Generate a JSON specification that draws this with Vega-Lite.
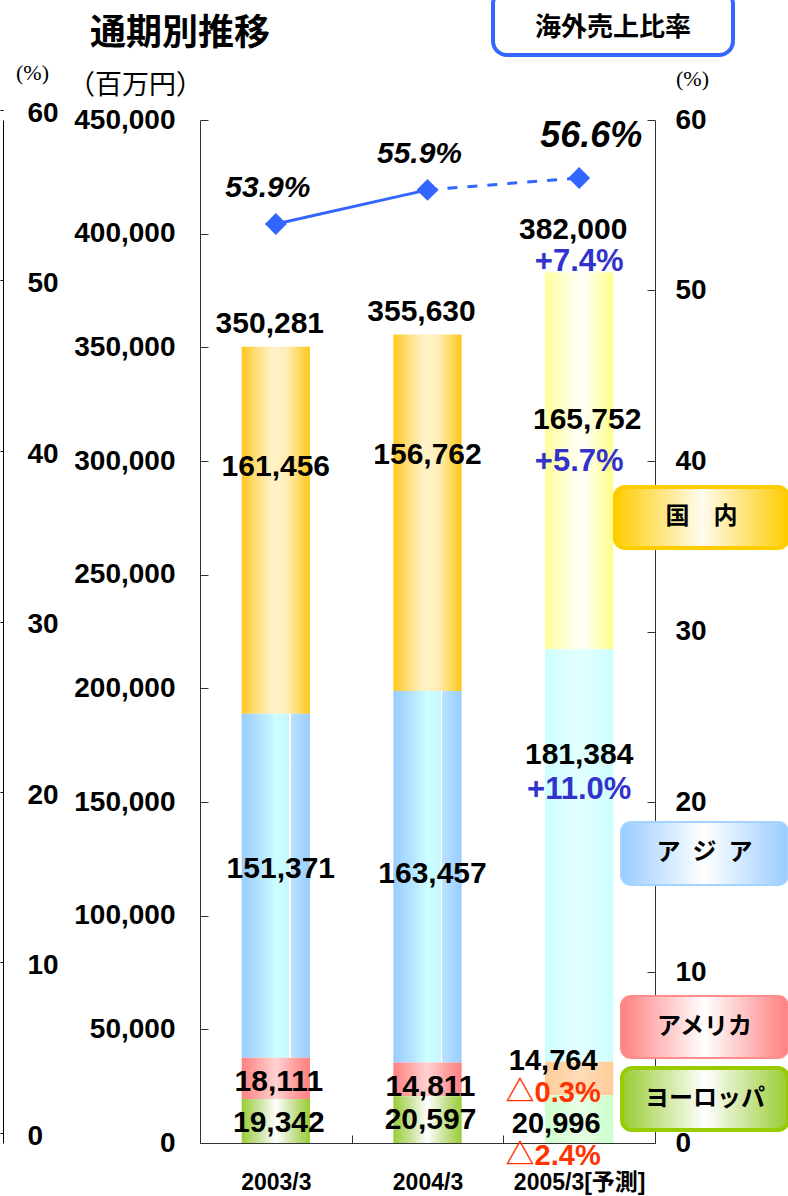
{
  "$schema": "https://vega.github.io/schema/vega-lite/v6.json",
  "width": 455,
  "height": 1023,
  "autosize": {"type": "none"},
  "padding": {"left": 200, "top": 120, "right": 133, "bottom": 53},
  "background": "white",
  "config": {
    "view": {"stroke": null},
    "axis": {"grid": false, "domainColor": "#333333", "tickColor": "#333333", "labelColor": "black", "titleColor": "black"},
    "text": {"font": "Liberation Sans, Noto Sans CJK JP, sans-serif"}
  },
  "title": {"text": "通期別推移", "anchor": "start", "frame": "group", "font": "Noto Sans CJK JP", "fontSize": 36, "fontWeight": "bold", "color": "black", "dx": -110, "dy": 67},
  "datasets": {
    "segments": [
      {"year": "2003/3", "region": "ヨーロッパ", "order": 1, "value": 19342, "change": null},
      {"year": "2003/3", "region": "アメリカ", "order": 2, "value": 18111, "change": null},
      {"year": "2003/3", "region": "アジア", "order": 3, "value": 151371, "change": null},
      {"year": "2003/3", "region": "国内", "order": 4, "value": 161456, "change": null},
      {"year": "2004/3", "region": "ヨーロッパ", "order": 1, "value": 20597, "change": null},
      {"year": "2004/3", "region": "アメリカ", "order": 2, "value": 14811, "change": null},
      {"year": "2004/3", "region": "アジア", "order": 3, "value": 163457, "change": null},
      {"year": "2004/3", "region": "国内", "order": 4, "value": 156762, "change": null},
      {"year": "2005/3[予測]", "region": "ヨーロッパ", "order": 1, "value": 20996, "change": "△2.4%"},
      {"year": "2005/3[予測]", "region": "アメリカ", "order": 2, "value": 14764, "change": "△0.3%"},
      {"year": "2005/3[予測]", "region": "アジア", "order": 3, "value": 181384, "change": "+11.0%"},
      {"year": "2005/3[予測]", "region": "国内", "order": 4, "value": 165752, "change": "+5.7%"}
    ],
    "totals": [
      {"year": "2003/3", "total": 350281, "change": null},
      {"year": "2004/3", "total": 355630, "change": null},
      {"year": "2005/3[予測]", "total": 382000, "change": "+7.4%"}
    ],
    "ratio": [
      {"year": "2003/3", "ratio": 0.539},
      {"year": "2004/3", "ratio": 0.559},
      {"year": "2005/3[予測]", "ratio": 0.566}
    ]
  },
  "encoding": {
    "x": {
      "field": "year", "type": "nominal", "sort": ["2003/3", "2004/3", "2005/3[予測]"],
      "scale": {"paddingInner": 0, "paddingOuter": 0},
      "axis": {"title": null, "labelAngle": 0, "labelFont": "Liberation Sans, Noto Sans CJK JP, sans-serif", "labelFontSize": 23, "labelFontWeight": "bold", "labelPadding": 36, "tickSize": -8, "tickBand": "extent", "labelBaseline": "top"}
    }
  },
  "layer": [
    {
      "layer": [
        {
          "data": {"name": "segments"},
          "transform": [{"stack": "value", "groupby": ["year"], "sort": [{"field": "order", "order": "ascending"}], "as": ["lo", "hi"]}],
          "layer": [
            {
              "transform": [{"filter": "datum.region === '国内'"}],
              "mark": {"type": "bar", "width": {"band": 0.45}},
              "encoding": {
                "y": {"field": "lo", "type": "quantitative", "scale": {"domain": [0, 450000], "nice": false},
                  "axis": {"orient": "left", "values": [0, 50000, 100000, 150000, 200000, 250000, 300000, 350000, 400000, 450000], "labelExpr": "format(datum.value, ',')", "labelFont": "Liberation Sans", "labelFontSize": 28, "labelFontWeight": "bold", "labelPadding": 33, "tickSize": -8, "title": "（百万円）", "titleAngle": 0, "titleFont": "Noto Sans CJK JP", "titleFontSize": 27, "titleFontWeight": "normal", "titleAlign": "center", "titleBaseline": "middle", "titleX": -65, "titleY": -35}},
                "y2": {"field": "hi"},
                "color": {
                  "condition": {"test": "datum.year === '2005/3[予測]'", "value": {"gradient": "linear", "x1": 0, "x2": 1, "y1": 0, "y2": 0, "stops": [{"offset": 0, "color": "#ffff99"}, {"offset": 0.45, "color": "#ffffee"}, {"offset": 0.6, "color": "#fffff0"}, {"offset": 1, "color": "#ffff88"}]}},
                  "value": {"gradient": "linear", "x1": 0, "x2": 1, "y1": 0, "y2": 0, "stops": [{"offset": 0, "color": "#ffc61a"}, {"offset": 0.2, "color": "#ffdd77"}, {"offset": 0.45, "color": "#fff2c9"}, {"offset": 0.65, "color": "#ffeebb"}, {"offset": 0.85, "color": "#ffd95e"}, {"offset": 1, "color": "#ffc61a"}]}
                }
              }
            },
            {
              "transform": [{"filter": "datum.region === 'アジア'"}],
              "mark": {"type": "bar", "width": {"band": 0.45}},
              "encoding": {
                "y": {"field": "lo", "type": "quantitative"},
                "y2": {"field": "hi"},
                "color": {
                  "condition": {"test": "datum.year === '2005/3[予測]'", "value": {"gradient": "linear", "x1": 0, "x2": 1, "y1": 0, "y2": 0, "stops": [{"offset": 0, "color": "#ccffff"}, {"offset": 0.5, "color": "#e4ffff"}, {"offset": 1, "color": "#ccffff"}]}},
                  "value": {"gradient": "linear", "x1": 0, "x2": 1, "y1": 0, "y2": 0, "stops": [{"offset": 0, "color": "#99ccff"}, {"offset": 0.3, "color": "#b8e6ff"}, {"offset": 0.5, "color": "#ccffff"}, {"offset": 0.69, "color": "#c6f6ff"}, {"offset": 0.695, "color": "#ffffff"}, {"offset": 0.715, "color": "#ffffff"}, {"offset": 0.72, "color": "#b9e2ff"}, {"offset": 1, "color": "#99ccff"}]}
                }
              }
            },
            {
              "transform": [{"filter": "datum.region === 'アメリカ'"}],
              "mark": {"type": "bar", "width": {"band": 0.45}},
              "encoding": {
                "y": {"field": "lo", "type": "quantitative"},
                "y2": {"field": "hi"},
                "color": {
                  "condition": {"test": "datum.year === '2005/3[予測]'", "value": {"gradient": "linear", "x1": 0, "x2": 1, "y1": 0, "y2": 0, "stops": [{"offset": 0, "color": "#ffcc99"}, {"offset": 0.5, "color": "#ffdcb8"}, {"offset": 1, "color": "#ffcc99"}]}},
                  "value": {"gradient": "linear", "x1": 0, "x2": 1, "y1": 0, "y2": 0, "stops": [{"offset": 0, "color": "#ff8080"}, {"offset": 0.2, "color": "#ffa0a0"}, {"offset": 0.5, "color": "#ffd2d2"}, {"offset": 0.8, "color": "#ff9c9c"}, {"offset": 1, "color": "#ff8080"}]}
                }
              }
            },
            {
              "transform": [{"filter": "datum.region === 'ヨーロッパ'"}],
              "mark": {"type": "bar", "width": {"band": 0.45}},
              "encoding": {
                "y": {"field": "lo", "type": "quantitative"},
                "y2": {"field": "hi"},
                "color": {
                  "condition": {"test": "datum.year === '2005/3[予測]'", "value": {"gradient": "linear", "x1": 0, "x2": 1, "y1": 0, "y2": 0, "stops": [{"offset": 0, "color": "#ccffcc"}, {"offset": 0.5, "color": "#e6ffe6"}, {"offset": 1, "color": "#ccffcc"}]}},
                  "value": {"gradient": "linear", "x1": 0, "x2": 1, "y1": 0, "y2": 0, "stops": [{"offset": 0, "color": "#99cc33"}, {"offset": 0.25, "color": "#c8e29a"}, {"offset": 0.5, "color": "#ffffff"}, {"offset": 0.75, "color": "#c8e29a"}, {"offset": 1, "color": "#99cc33"}]}
                }
              }
            },
            {
              "transform": [{"filter": "datum.year !== '2005/3[予測]' && datum.region === '国内'"}],
              "mark": {"type": "text", "fontSize": 30, "fontWeight": "bold", "align": "center", "baseline": "middle", "color": "black", "dy": 120},
              "encoding": {"y": {"field": "hi", "type": "quantitative"}, "text": {"field": "value", "type": "quantitative", "format": ","}}
            },
            {
              "transform": [{"filter": "datum.year !== '2005/3[予測]' && datum.region === 'アジア'"}],
              "mark": {"type": "text", "fontSize": 30, "fontWeight": "bold", "align": "center", "baseline": "middle", "color": "black", "dy": -189, "dx": 5},
              "encoding": {"y": {"field": "lo", "type": "quantitative"}, "text": {"field": "value", "type": "quantitative", "format": ","}}
            },
            {
              "transform": [{"filter": "datum.year !== '2005/3[予測]' && (datum.region === 'アメリカ' || datum.region === 'ヨーロッパ')"}],
              "mark": {"type": "text", "fontSize": 30, "fontWeight": "bold", "align": "center", "baseline": "middle", "color": "black", "dy": 24, "dx": 3},
              "encoding": {"y": {"field": "hi", "type": "quantitative"}, "text": {"field": "value", "type": "quantitative", "format": ","}}
            },
            {
              "transform": [{"filter": "datum.year === '2005/3[予測]' && datum.region === '国内'"}],
              "mark": {"type": "text", "fontSize": 30, "fontWeight": "bold", "align": "center", "baseline": "middle", "color": "black", "dy": 147, "dx": 8},
              "encoding": {"y": {"field": "hi", "type": "quantitative"}, "text": {"field": "value", "type": "quantitative", "format": ","}}
            },
            {
              "transform": [{"filter": "datum.year === '2005/3[予測]' && datum.region === '国内'"}],
              "mark": {"type": "text", "fontSize": 31, "fontWeight": "bold", "align": "center", "baseline": "middle", "color": "#3333cc", "dy": 189},
              "encoding": {"y": {"field": "hi", "type": "quantitative"}, "text": {"field": "change", "type": "nominal"}}
            },
            {
              "transform": [{"filter": "datum.year === '2005/3[予測]' && datum.region === 'アジア'"}],
              "mark": {"type": "text", "fontSize": 30, "fontWeight": "bold", "align": "center", "baseline": "middle", "color": "black", "dy": 106},
              "encoding": {"y": {"field": "hi", "type": "quantitative"}, "text": {"field": "value", "type": "quantitative", "format": ","}}
            },
            {
              "transform": [{"filter": "datum.year === '2005/3[予測]' && datum.region === 'アジア'"}],
              "mark": {"type": "text", "fontSize": 31, "fontWeight": "bold", "align": "center", "baseline": "middle", "color": "#3333cc", "dy": 141},
              "encoding": {"y": {"field": "hi", "type": "quantitative"}, "text": {"field": "change", "type": "nominal"}}
            },
            {
              "transform": [{"filter": "datum.year === '2005/3[予測]' && datum.region === 'アメリカ'"}],
              "mark": {"type": "text", "fontSize": 29, "fontWeight": "bold", "align": "center", "baseline": "middle", "color": "black", "dy": -1, "dx": -26},
              "encoding": {"y": {"field": "hi", "type": "quantitative"}, "text": {"field": "value", "type": "quantitative", "format": ","}}
            },
            {
              "transform": [{"filter": "datum.year === '2005/3[予測]' && datum.region === 'アメリカ'"}],
              "mark": {"type": "text", "fontSize": 29, "fontWeight": "bold", "align": "center", "baseline": "middle", "color": "#ff3300", "dy": 31, "dx": -26},
              "encoding": {"y": {"field": "hi", "type": "quantitative"}, "text": {"field": "change", "type": "nominal"}}
            },
            {
              "transform": [{"filter": "datum.year === '2005/3[予測]' && datum.region === 'ヨーロッパ'"}],
              "mark": {"type": "text", "fontSize": 29, "fontWeight": "bold", "align": "center", "baseline": "middle", "color": "black", "dy": 29, "dx": -23},
              "encoding": {"y": {"field": "hi", "type": "quantitative"}, "text": {"field": "value", "type": "quantitative", "format": ","}}
            },
            {
              "transform": [{"filter": "datum.year === '2005/3[予測]' && datum.region === 'ヨーロッパ'"}],
              "mark": {"type": "text", "fontSize": 29, "fontWeight": "bold", "align": "center", "baseline": "middle", "color": "#ff3300", "dy": 61, "dx": -26},
              "encoding": {"y": {"field": "hi", "type": "quantitative"}, "text": {"field": "change", "type": "nominal"}}
            }
          ]
        },
        {
          "data": {"name": "totals"},
          "transform": [{"filter": "datum.change === null"}],
          "mark": {"type": "text", "fontSize": 30, "fontWeight": "bold", "align": "center", "baseline": "middle", "color": "black", "dy": -23, "dx": -6},
          "encoding": {"y": {"field": "total", "type": "quantitative"}, "text": {"field": "total", "type": "quantitative", "format": ","}}
        },
        {
          "data": {"name": "totals"},
          "transform": [{"filter": "datum.change !== null"}],
          "mark": {"type": "text", "fontSize": 30, "fontWeight": "bold", "align": "center", "baseline": "middle", "color": "black", "dy": -45, "dx": -6},
          "encoding": {"y": {"field": "total", "type": "quantitative"}, "text": {"field": "total", "type": "quantitative", "format": ","}}
        },
        {
          "data": {"name": "totals"},
          "transform": [{"filter": "datum.change !== null"}],
          "mark": {"type": "text", "fontSize": 31, "fontWeight": "bold", "align": "center", "baseline": "middle", "color": "#3333cc", "dy": -13},
          "encoding": {"y": {"field": "total", "type": "quantitative"}, "text": {"field": "change", "type": "nominal"}}
        }
      ]
    },
    {
      "data": {"name": "ratio"},
      "layer": [
        {
          "transform": [{"filter": "datum.year !== '2005/3[予測]'"}],
          "mark": {"type": "line", "color": "#3366ff", "strokeWidth": 3},
          "encoding": {
            "y": {"field": "ratio", "type": "quantitative", "scale": {"domain": [0, 0.6], "nice": false},
              "axis": {"orient": "right", "values": [0, 0.1, 0.2, 0.3, 0.4, 0.5, 0.6], "labelExpr": "format(datum.value * 100, '.0f')", "labelFont": "Liberation Sans", "labelFontSize": 28, "labelFontWeight": "bold", "labelPadding": 28, "tickSize": -8, "title": "(%)", "titleAngle": 0, "titleFont": "Liberation Serif", "titleFontSize": 22, "titleFontWeight": "normal", "titleAlign": "center", "titleBaseline": "middle", "titleX": 37, "titleY": -42}}
          }
        },
        {
          "transform": [{"filter": "datum.year !== '2003/3'"}],
          "mark": {"type": "line", "color": "#3366ff", "strokeWidth": 3, "strokeDash": [10, 10]},
          "encoding": {"y": {"field": "ratio", "type": "quantitative"}}
        },
        {
          "mark": {"type": "point", "shape": "diamond", "filled": true, "size": 480, "color": "#3366ff", "opacity": 1},
          "encoding": {"y": {"field": "ratio", "type": "quantitative"}}
        },
        {
          "transform": [{"filter": "datum.year !== '2005/3[予測]'"}],
          "mark": {"type": "text", "fontSize": 30, "fontWeight": "bold", "fontStyle": "italic", "align": "center", "baseline": "middle", "color": "black", "dy": -36, "dx": -8},
          "encoding": {"y": {"field": "ratio", "type": "quantitative"}, "text": {"field": "ratio", "type": "quantitative", "format": ".1%"}}
        },
        {
          "transform": [{"filter": "datum.year === '2005/3[予測]'"}],
          "mark": {"type": "text", "fontSize": 36, "fontWeight": "bold", "fontStyle": "italic", "align": "center", "baseline": "middle", "color": "black", "dy": -42, "dx": 12},
          "encoding": {"y": {"field": "ratio", "type": "quantitative"}, "text": {"field": "ratio", "type": "quantitative", "format": ".1%"}}
        }
      ]
    },
    {
      "data": {"name": "ratio"},
      "mark": {"type": "point", "opacity": 0},
      "encoding": {
        "y": {"field": "ratio", "type": "quantitative", "scale": {"domain": [0, 0.6], "nice": false},
          "axis": {"orient": "left", "offset": 197, "values": [0, 0.1, 0.2, 0.3, 0.4, 0.5, 0.6], "labelExpr": "format(datum.value * 100, '.0f')", "labelFont": "Liberation Sans", "labelFontSize": 28, "labelFontWeight": "bold", "labelAlign": "left", "labelPadding": -27, "tickSize": 3, "labelOffset": 3, "tickOffset": -10, "domainColor": "black", "tickColor": "black", "title": "(%)", "titleAngle": 0, "titleFont": "Liberation Serif", "titleFontSize": 22, "titleFontWeight": "normal", "titleAlign": "center", "titleBaseline": "middle", "titleX": 29, "titleY": -48}}
      }
    },
    {
      "data": {"name": "ratio"},
      "mark": {"type": "circle", "opacity": 0},
      "encoding": {"color": {"field": "ratio", "type": "quantitative", "scale": {"domain": [0, 1], "range": ["#ffffff", "#ffffff"]},
        "legend": {"orient": "none", "legendX": 293, "legendY": -130, "direction": "horizontal", "title": null, "gradientLength": 240, "gradientThickness": 65, "gradientStrokeColor": "#3366ff", "gradientStrokeWidth": 4, "values": [0.5], "labelExpr": "'海外売上比率'", "labelFont": "Noto Sans CJK JP", "labelFontSize": 26, "labelFontWeight": "bold", "labelColor": "black", "labelOffset": -40, "padding": 0, "encode": {"gradient": {"update": {"cornerRadius": {"value": 14}}}}}}}
    },
    {
      "data": {"name": "ratio"},
      "mark": {"type": "circle", "opacity": 0},
      "encoding": {"color": {"field": "ratio", "type": "quantitative", "scale": {"domain": [0, 0.5, 1], "range": ["#ffcc00", "#fffbef", "#ffcc00"], "interpolate": "rgb"},
        "legend": {"orient": "none", "legendX": 415, "legendY": 367, "direction": "horizontal", "title": null, "gradientLength": 173, "gradientThickness": 61, "gradientStrokeColor": "#ffcc00", "gradientStrokeWidth": 4, "values": [0.5], "labelExpr": "'国\u3000内'", "labelFont": "Noto Sans CJK JP", "labelFontSize": 24, "labelFontWeight": "bold", "labelColor": "black", "labelOffset": -43, "padding": 0, "encode": {"gradient": {"update": {"cornerRadius": {"value": 10}}}}}}}
    },
    {
      "data": {"name": "ratio"},
      "mark": {"type": "circle", "opacity": 0},
      "encoding": {"color": {"field": "ratio", "type": "quantitative", "scale": {"domain": [0, 0.5, 1], "range": ["#99ccff", "#ffffff", "#99ccff"], "interpolate": "rgb"},
        "legend": {"orient": "none", "legendX": 421, "legendY": 702, "direction": "horizontal", "title": null, "gradientLength": 167, "gradientThickness": 63, "gradientStrokeColor": "#a6d2ff", "gradientStrokeWidth": 2, "values": [0.5], "labelExpr": "'ア\u2002ジ\u2002ア'", "labelFont": "Noto Sans CJK JP", "labelFontSize": 24, "labelFontWeight": "bold", "labelColor": "black", "labelOffset": -44, "padding": 0, "encode": {"gradient": {"update": {"cornerRadius": {"value": 10}}}}}}}
    },
    {
      "data": {"name": "ratio"},
      "mark": {"type": "circle", "opacity": 0},
      "encoding": {"color": {"field": "ratio", "type": "quantitative", "scale": {"domain": [0, 0.5, 1], "range": ["#ff8080", "#ffffff", "#ff8080"], "interpolate": "rgb"},
        "legend": {"orient": "none", "legendX": 421, "legendY": 876, "direction": "horizontal", "title": null, "gradientLength": 167, "gradientThickness": 62, "gradientStrokeColor": "#ff8c8c", "gradientStrokeWidth": 2, "values": [0.5], "labelExpr": "'アメリカ'", "labelFont": "Noto Sans CJK JP", "labelFontSize": 24, "labelFontWeight": "bold", "labelColor": "black", "labelOffset": -43, "padding": 0, "encode": {"gradient": {"update": {"cornerRadius": {"value": 10}}}}}}}
    },
    {
      "data": {"name": "ratio"},
      "mark": {"type": "circle", "opacity": 0},
      "encoding": {"color": {"field": "ratio", "type": "quantitative", "scale": {"domain": [0, 0.5, 1], "range": ["#99cc33", "#ffffff", "#99cc33"], "interpolate": "rgb"},
        "legend": {"orient": "none", "legendX": 422, "legendY": 948, "direction": "horizontal", "title": null, "gradientLength": 166, "gradientThickness": 62, "gradientStrokeColor": "#99cc00", "gradientStrokeWidth": 4, "values": [0.5], "labelExpr": "'ヨーロッパ'", "labelFont": "Noto Sans CJK JP", "labelFontSize": 24, "labelFontWeight": "bold", "labelColor": "black", "labelOffset": -43, "padding": 0, "encode": {"gradient": {"update": {"cornerRadius": {"value": 10}}}}}}}
    }
  ],
  "resolve": {"scale": {"y": "independent", "color": "independent"}, "axis": {"y": "independent"}, "legend": {"color": "independent"}}
}
